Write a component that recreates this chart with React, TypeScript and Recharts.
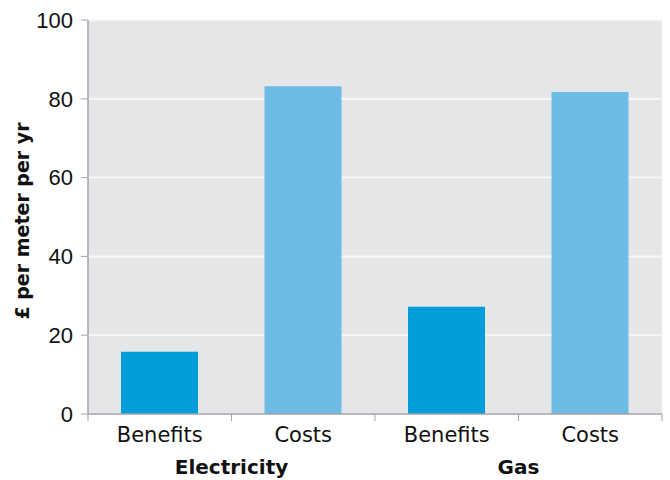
import { BarChart, Bar, XAxis, YAxis, CartesianGrid, Cell } from "recharts";

const categories = ["Benefits", "Costs", "Benefits", "Costs"];
const groups = ["Electricity", "Electricity", "Gas", "Gas"];
const values = [15.8, 83.2, 27.2, 81.7];
const yTicks = [0, 20, 40, 60, 80, 100];

const data = categories.map((label, i) => ({ label, group: groups[i], value: values[i] }));

const W = 670;
const H = 480;
const M = { top: 20, right: 8, left: 0, bottom: 0 };
const Y_W = 88;
const PLOT_W = W - M.left - M.right - Y_W;
const HALF_BAND = PLOT_W / categories.length / 2;

const DARK = "#009ddb";
const LIGHT = "#6ebbe6";
const AXIS = "#a3a5a8";
const BODY = "'DejaVu Sans', sans-serif";

function CategoryTick(props: any) {
  const { x, y, index } = props;
  const axisY = y - 7;
  return (
    <g>
      <line x1={x - HALF_BAND} x2={x - HALF_BAND} y1={axisY} y2={axisY + 7} stroke={AXIS} />
      {index === categories.length - 1 && (
        <line x1={x + HALF_BAND} x2={x + HALF_BAND} y1={axisY} y2={axisY + 7} stroke={AXIS} />
      )}
      <text x={x} y={axisY + 28} textAnchor="middle" fontFamily={BODY} fontSize={21} fill="#111">
        {props.payload.value}
      </text>
    </g>
  );
}

function GroupTick(props: any) {
  const { x, y } = props;
  return (
    <text x={x} y={y + 24} textAnchor="middle" fontFamily={BODY} fontSize={20} fontWeight="bold" fill="#111">
      {props.payload.value}
    </text>
  );
}

export default function App() {
  return (
    <div style={{ position: "absolute", left: 0, top: 0, background: "#fff" }}>
      <BarChart width={W} height={H} data={data} margin={M} barCategoryGap="23%">
        <CartesianGrid vertical={false} fill="#e5e6e8" stroke="#f7f7f8" strokeWidth={2} />
        <XAxis
          xAxisId="cat"
          dataKey="label"
          allowDuplicatedCategory
          height={36}
          tickSize={7}
          tickMargin={0}
          tickLine={false}
          axisLine={{ stroke: AXIS, strokeWidth: 1.5 }}
          tick={<CategoryTick />}
          interval={0}
        />
        <XAxis
          xAxisId="grp"
          dataKey="group"
          allowDuplicatedCategory={false}
          height={30}
          tickSize={0}
          tickMargin={0}
          tickLine={false}
          axisLine={false}
          tick={<GroupTick />}
          interval={0}
        />
        <YAxis
          width={Y_W}
          domain={[0, 100]}
          ticks={yTicks}
          interval={0}
          tickSize={7}
          tickMargin={8}
          axisLine={{ stroke: AXIS, strokeWidth: 1.5 }}
          tickLine={{ stroke: AXIS }}
          tick={{ fontFamily: "'Liberation Sans', Arial, sans-serif", fontSize: 22, fill: "#111" }}
          label={{
            content: ({ viewBox }: any) => {
              const cx = 22;
              const cy = viewBox.y + viewBox.height / 2 + 4;
              return (
                <text
                  x={cx}
                  y={cy}
                  transform={`rotate(-90 ${cx} ${cy})`}
                  textAnchor="middle"
                  dominantBaseline="central"
                  fontFamily={BODY}
                  fontSize={19}
                  fontWeight="bold"
                  fill="#111"
                >
                  £ per meter per yr
                </text>
              );
            },
          }}
        />
        <Bar xAxisId="cat" dataKey="value" isAnimationActive={false}>
          {data.map((d, i) => (
            <Cell key={i} fill={d.label === "Benefits" ? DARK : LIGHT} />
          ))}
        </Bar>
      </BarChart>
    </div>
  );
}
